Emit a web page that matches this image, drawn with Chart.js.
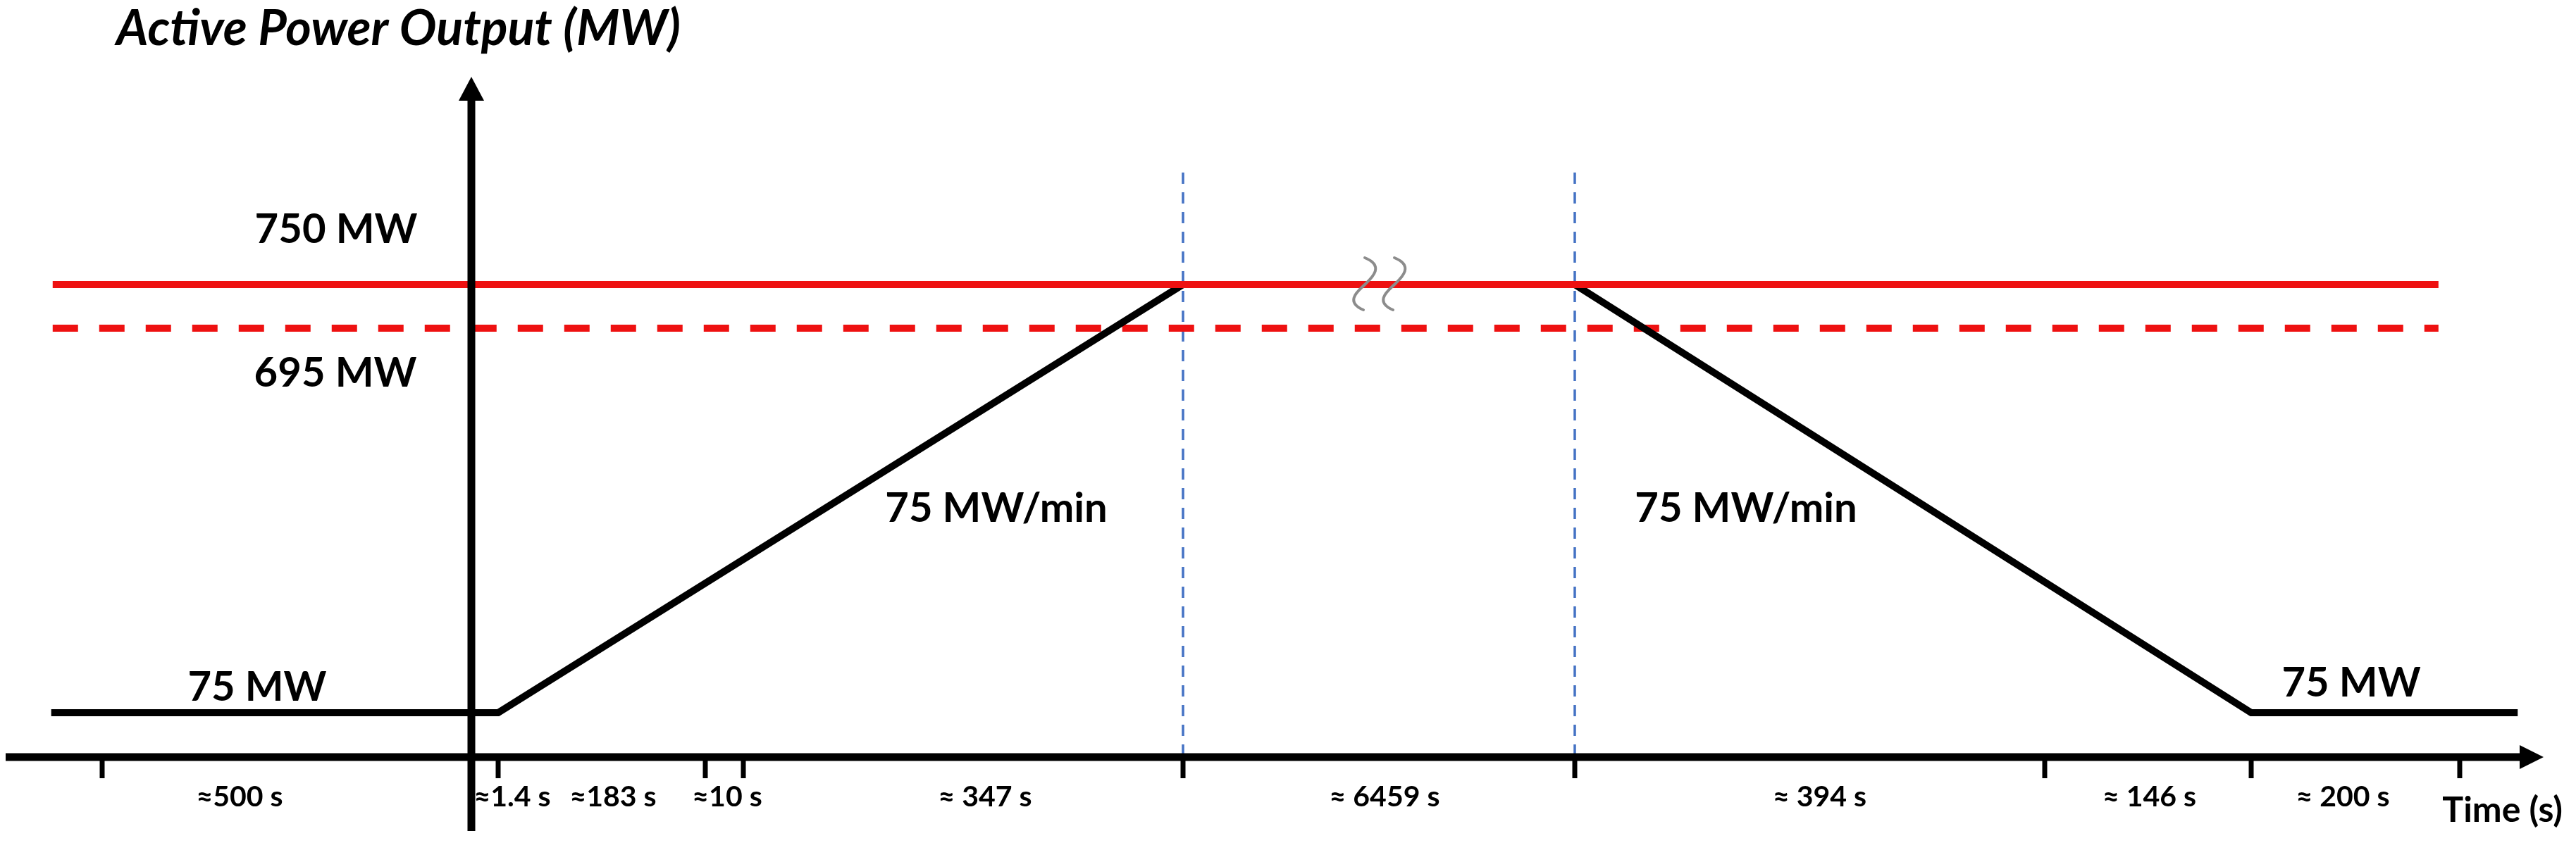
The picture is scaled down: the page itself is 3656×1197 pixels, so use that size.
<!DOCTYPE html>
<html>
<head>
<meta charset="utf-8">
<title>Active power output</title>
<script src="https://cdn.jsdelivr.net/npm/chart.js@4.4.1/dist/chart.umd.min.js"></script>
<style>
  html, body { margin: 0; padding: 0; background: #fff; }
  canvas { display: block; }
</style>
</head>
<body>
<canvas id="powerChart" width="3656" height="1197"></canvas>
<script>
// stages along the time axis (drawn not to scale)
const stageSeconds = [500, 1.4, 183, 10, 347, 6459, 394, 146, 200];
const stageLabels = ['≈500 s', '≈1.4 s', '≈183 s', '≈10 s', '≈ 347 s', '≈ 6459 s', '≈ 394 s', '≈ 146 s', '≈ 200 s'];

// unit output, time in s from the power axis
const powerTime = [-569, 1.4, 541.4, 7000.4, 7540.4, 7796];
const powerMW = [75, 75, 750, 750, 75, 75];

// limit lines
const limitTime = [-567, 7720];
const maxMW = 750;
const lowMW = 695;

// blue guides at start / end of the plateau
const guideTime = [541.4, 7000.4];
const guideMW = [900, 0];

// stage boundaries in s, first tick is 500 s before the axis
const bounds = [-stageSeconds[0]];
stageSeconds.forEach(s => bounds.push(Math.round((bounds[bounds.length - 1] + s) * 10) / 10));

// where each boundary sits along the axis (fraction of plot width)
const xFrac = [0.03803, 0.18351, 0.19406, 0.27568, 0.29067, 0.46391, 0.61827, 0.80344, 0.88479, 0.96696];

// linear scale that is only linear between the given stops
class PiecewiseScale extends Chart.LinearScale {
  _frac(v) {
    const s = this.options.stops;
    let i = 0;
    while (i < s.length - 2 && v > s[i + 1][0]) i++;
    const a = s[i], b = s[i + 1];
    return a[1] + (v - a[0]) * (b[1] - a[1]) / (b[0] - a[0]);
  }
  getPixelForValue(v) {
    if (v === null || isNaN(v)) return NaN;
    return this.getPixelForDecimal(this._frac(v));
  }
  getValueForPixel(px) {
    const d = this.getDecimalForPixel(px);
    const s = this.options.stops;
    let i = 0;
    while (i < s.length - 2 && d > s[i + 1][1]) i++;
    const a = s[i], b = s[i + 1];
    return a[0] + (d - a[1]) * (b[0] - a[0]) / (b[1] - a[1]);
  }
}
PiecewiseScale.id = 'piecewise';
PiecewiseScale.defaults = Chart.LinearScale.defaults;
Chart.register(PiecewiseScale);

const RED = '#ee1111';
const BLUE = '#4472c4';

const sketch = {
  id: 'sketch',
  beforeDraw(chart) {
    const ctx = chart.ctx;
    ctx.save();
    ctx.fillStyle = '#fff';
    ctx.fillRect(0, 0, chart.width, chart.height);
    ctx.restore();
  },
  afterDatasetsDraw(chart, args, opts) {
    const { ctx, chartArea: area } = chart;
    const x = chart.scales.x, y = chart.scales.y;
    const x0 = x.getPixelForValue(0);
    const base = area.bottom;

    const seg = (x1, y1, x2, y2) => {
      ctx.beginPath();
      ctx.moveTo(x1, y1);
      ctx.lineTo(x2, y2);
      ctx.stroke();
    };
    const tri = (pts) => {
      ctx.beginPath();
      ctx.moveTo(pts[0], pts[1]);
      ctx.lineTo(pts[2], pts[3]);
      ctx.lineTo(pts[4], pts[5]);
      ctx.closePath();
      ctx.fill();
    };

    ctx.save();
    ctx.strokeStyle = '#000';
    ctx.fillStyle = '#000';
    ctx.lineCap = 'butt';

    // time axis with arrow
    ctx.lineWidth = 11;
    seg(area.left, base, area.right - 30, base);
    tri([area.right, base, area.right - 34, base - 17, area.right - 34, base + 17]);

    // power axis with arrow
    seg(x0, base + 105, x0, area.top + 30);
    tri([x0, area.top, x0 - 18, area.top + 34, x0 + 18, area.top + 34]);

    // stage ticks
    ctx.lineWidth = 7;
    bounds.forEach(t => {
      if (t === 0) return;
      const px = x.getPixelForValue(t);
      seg(px, base, px, base + 30);
    });

    // stage labels
    ctx.font = 'bold 41px Lato';
    ctx.textAlign = 'center';
    ctx.textBaseline = 'middle';
    stageLabels.forEach((s, i) => {
      const mid = (x.getPixelForValue(bounds[i]) + x.getPixelForValue(bounds[i + 1])) / 2;
      ctx.fillText(s, mid + opts.labelShift[i], base + 57);
    });
    ctx.textAlign = 'right';
    ctx.font = 'bold 50px Lato';
    ctx.fillText('Time (s)', area.right + 27, base + 76);

    // notes on the lines
    ctx.font = 'bold 58px Lato';
    ctx.textAlign = 'center';
    opts.notes.forEach(n => {
      ctx.fillText(n.text, x.getPixelForValue(n.t) + n.dx, y.getPixelForValue(n.mw) + n.dy);
    });

    // break mark on the plateau
    const bx = (x.getPixelForValue(guideTime[0]) + x.getPixelForValue(guideTime[1])) / 2;
    const by = y.getPixelForValue(maxMW);
    ctx.strokeStyle = '#8c8c8c';
    ctx.lineWidth = 4;
    ctx.lineCap = 'round';
    [-20, 22].forEach(off => {
      const cx = bx + off;
      ctx.beginPath();
      ctx.moveTo(cx, by - 38);
      ctx.bezierCurveTo(cx + 30, by - 26, cx + 8, by - 8, cx, by);
      ctx.bezierCurveTo(cx - 8, by + 8, cx - 30, by + 24, cx - 2, by + 36);
      ctx.stroke();
    });

    // axis title
    ctx.fillStyle = '#000';
    ctx.font = 'italic bold 70px Lato';
    ctx.textAlign = 'left';
    ctx.textBaseline = 'alphabetic';
    ctx.fillText('Active Power Output (MW)', x0 - 504, 64);
    ctx.restore();
  }
};

const line = (data, color, width, dash) => ({
  data,
  borderColor: color,
  borderWidth: width,
  borderDash: dash || [],
  borderJoinStyle: 'miter',
  borderCapStyle: 'butt',
  pointRadius: 0,
  fill: false,
  tension: 0
});

const ctx = document.getElementById('powerChart').getContext('2d');

const powerChart = new Chart(ctx, {
  type: 'line',
  data: {
    datasets: [
      line(limitTime.map(t => ({ x: t, y: maxMW })), RED, 10),
      line(powerTime.map((t, i) => ({ x: t, y: powerMW[i] })), '#000', 10),
      line(limitTime.map(t => ({ x: t, y: lowMW })), RED, 10, [36, 30]),
      ...guideTime.map(t => line(guideMW.map(v => ({ x: t, y: v })), BLUE, 3.5, [16, 12]))
    ]
  },
  options: {
    responsive: false,
    devicePixelRatio: 1,
    animation: false,
    layout: { padding: { left: 8, right: 46, top: 109, bottom: 122 } },
    scales: {
      x: {
        type: 'piecewise',
        display: false,
        stops: bounds.map((t, i) => [t, xFrac[i]])
      },
      y: {
        type: 'piecewise',
        display: false,
        stops: [[0, 0], [75, 0.0652], [695, 0.6304], [750, 0.6946], [900, 0.8592]]
      }
    },
    plugins: {
      legend: { display: false },
      tooltip: { enabled: false },
      sketch: {
        labelShift: [-67, 39, 16, 4, 31, 8, 14, 2, -18],
        notes: [
          { text: '750 MW', t: 0, mw: maxMW, dx: -192, dy: -78 },
          { text: '695 MW', t: 0, mw: lowMW, dx: -193, dy: 64 },
          { text: '75 MW', t: 0, mw: 75, dx: -304, dy: -36 },
          { text: '75 MW', t: 7540.4, mw: 75, dx: 142, dy: -42 },
          { text: '75 MW/min', t: 541.4, mw: maxMW, dx: -265, dy: 318 },
          { text: '75 MW/min', t: 7000.4, mw: maxMW, dx: 243, dy: 318 }
        ]
      }
    }
  },
  plugins: [sketch]
});
</script>
</body>
</html>
